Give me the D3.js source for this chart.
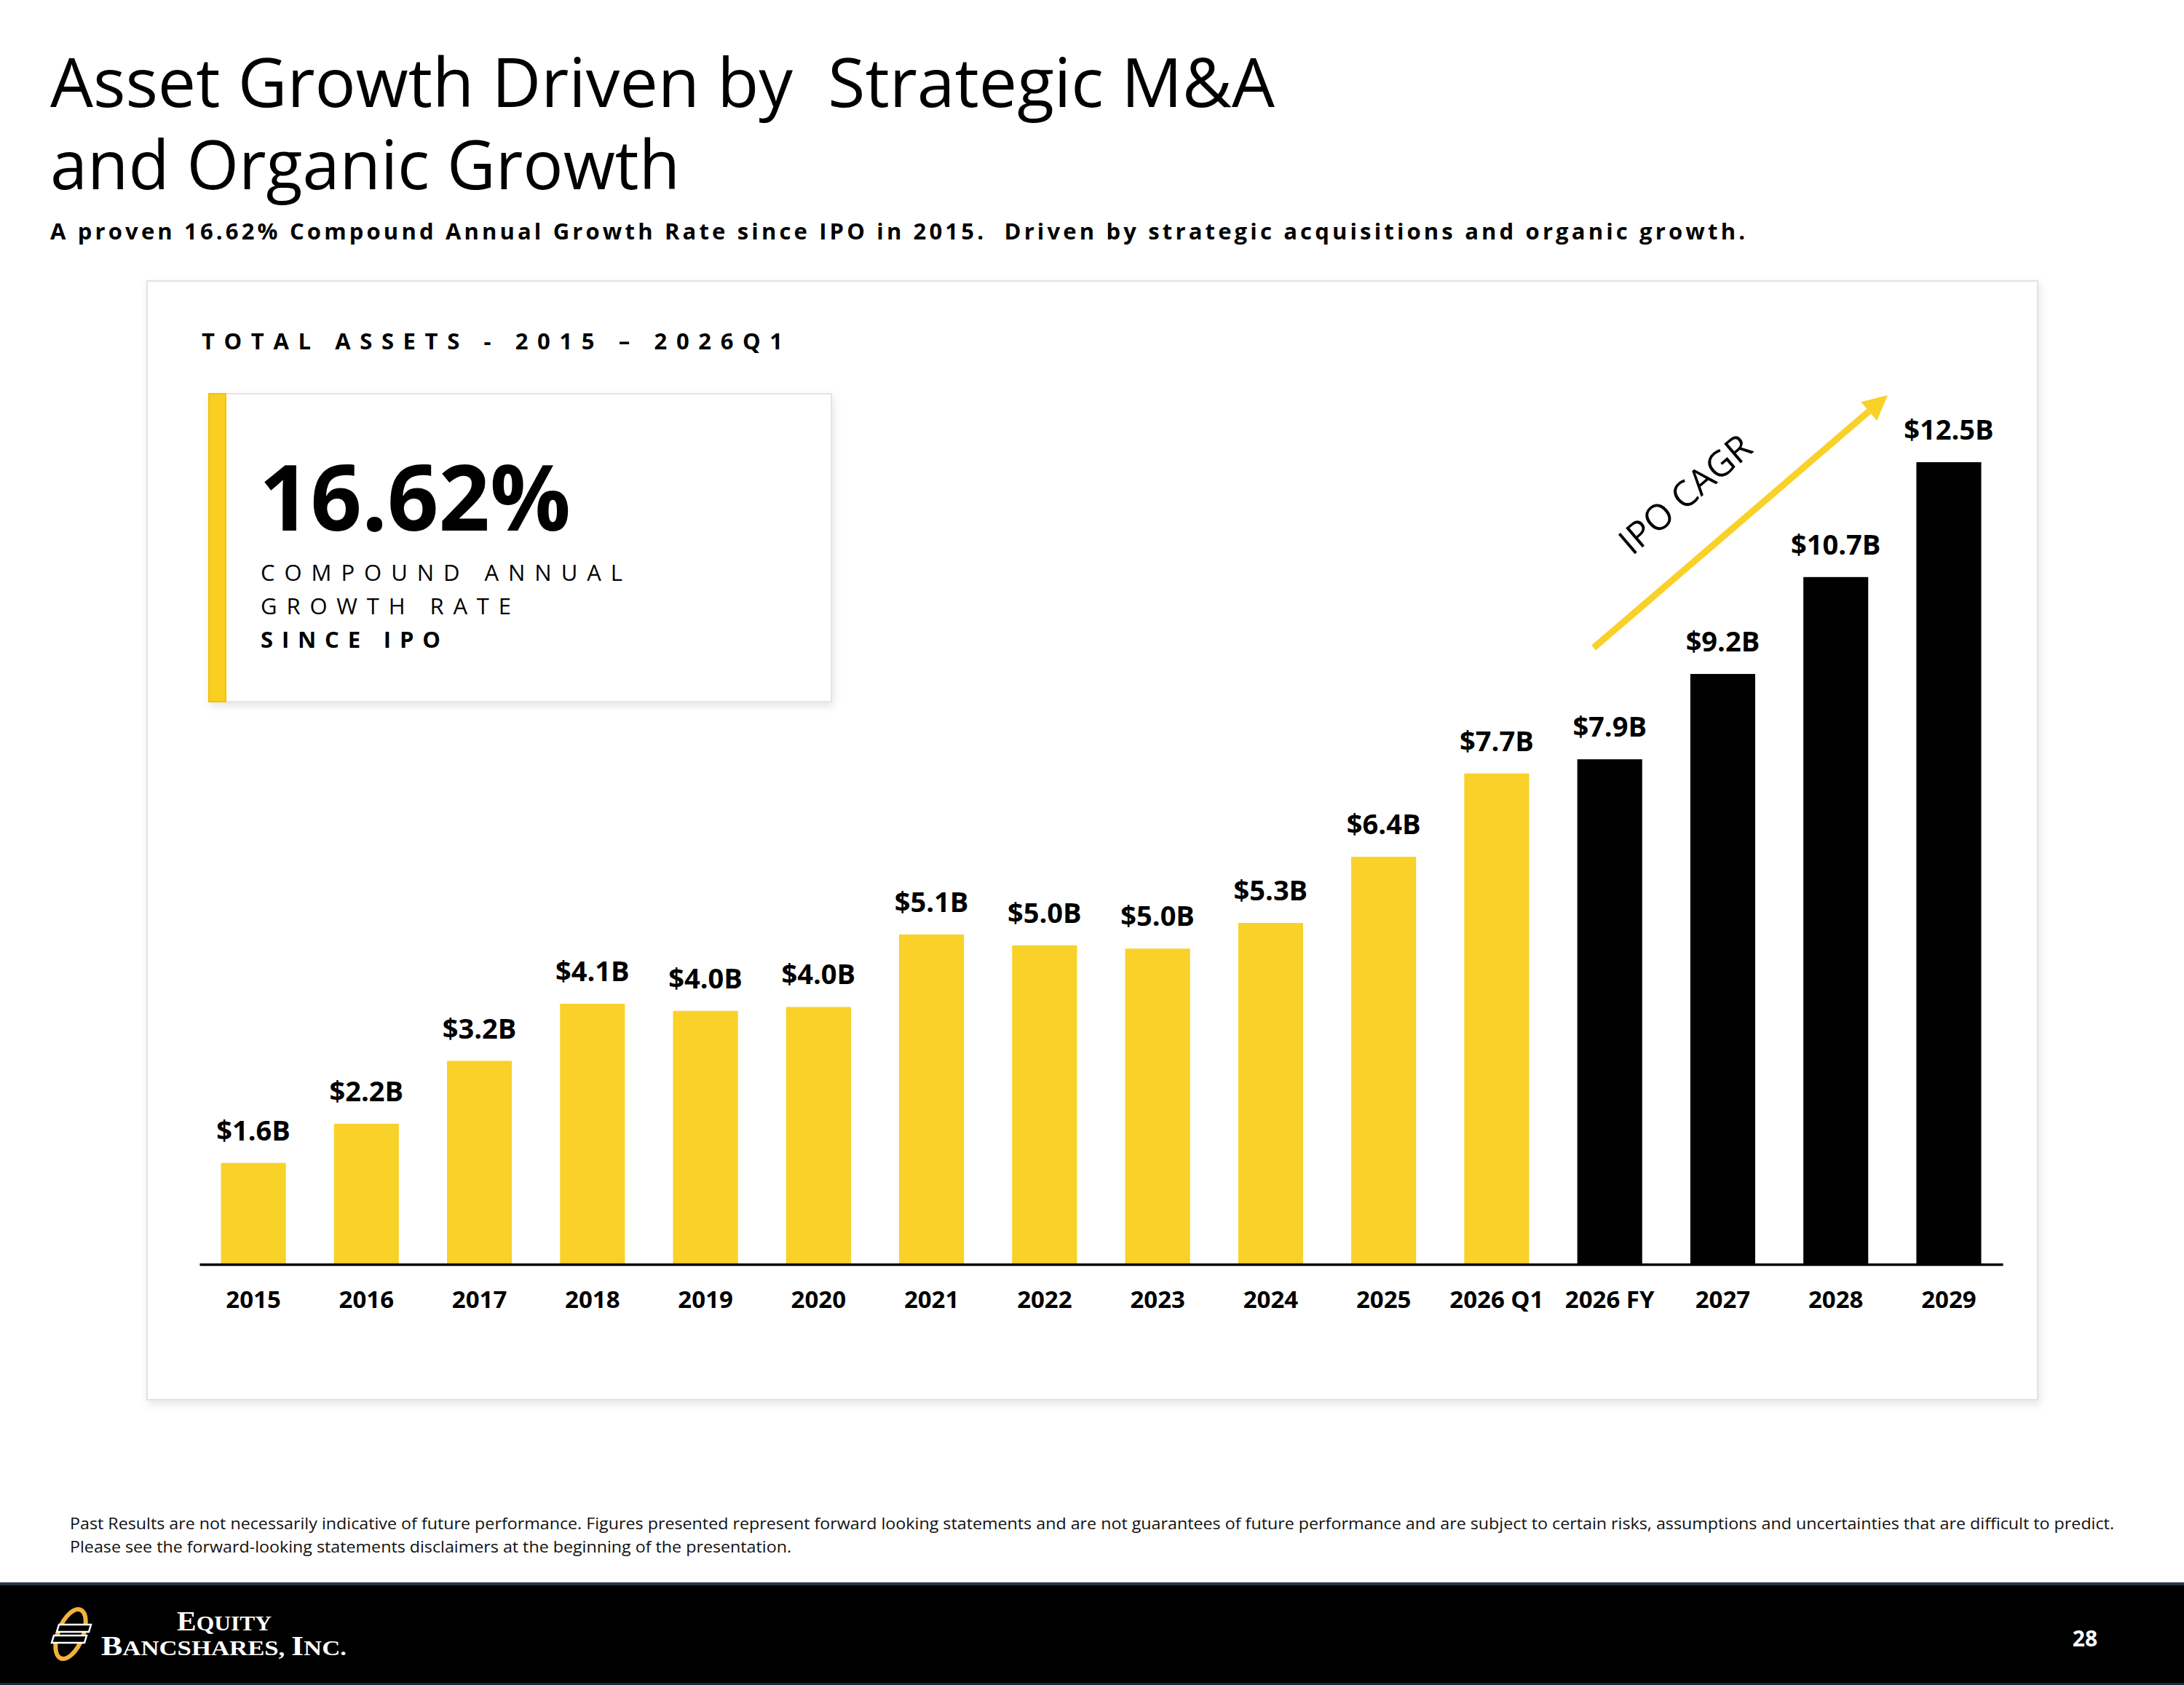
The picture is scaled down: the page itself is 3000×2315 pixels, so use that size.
<!DOCTYPE html>
<html>
<head>
<meta charset="utf-8">
<script src="https://cdn.jsdelivr.net/npm/d3@7"></script>
<style>
  html, body { margin: 0; padding: 0; background: #fff; }
  svg { display: block; }
  text { font-family: "Open Sans", sans-serif; }
  text.serif { font-family: "Liberation Serif", "DejaVu Serif", serif; }
</style>
</head>
<body>
<script>
// Chart data
const categories = ["2015", "2016", "2017", "2018", "2019", "2020", "2021", "2022",
  "2023", "2024", "2025", "2026 Q1", "2026 FY", "2027", "2028", "2029"];
const values = [1.58, 2.19, 3.17, 4.06, 3.95, 4.01, 5.14, 4.97,
  4.92, 5.32, 6.35, 7.65, 7.87, 9.20, 10.71, 12.50];
const valueLabels = ["$1.6B", "$2.2B", "$3.2B", "$4.1B", "$4.0B", "$4.0B", "$5.1B", "$5.0B",
  "$5.0B", "$5.3B", "$6.4B", "$7.7B", "$7.9B", "$9.2B", "$10.7B", "$12.5B"];
// actual results vs. projections
const kinds = ["actual", "actual", "actual", "actual", "actual", "actual", "actual", "actual",
  "actual", "actual", "actual", "actual", "projected", "projected", "projected", "projected"];

const YELLOW = "#F9D128";
const W = 3000, H = 2315;

const svg = d3.select("body").append("svg")
  .attr("width", W)
  .attr("height", H);

// Soft shadow used by both cards
const defs = svg.append("defs");
const shadow = defs.append("filter").attr("id", "shadow")
  .attr("x", "-5%").attr("y", "-5%").attr("width", "110%").attr("height", "115%");
shadow.append("feDropShadow")
  .attr("dx", 2).attr("dy", 5).attr("stdDeviation", 6)
  .attr("flood-color", "#000").attr("flood-opacity", 0.10);

// Title and subtitle
const title = svg.append("g");
title.append("text")
  .attr("x", 69).attr("y", 147)
  .style("font-size", "94px").style("white-space", "pre")
  .attr("textLength", 1682).attr("lengthAdjust", "spacingAndGlyphs")
  .text("Asset Growth Driven by  Strategic M&A");
title.append("text")
  .attr("x", 69).attr("y", 260)
  .style("font-size", "94px")
  .attr("textLength", 865).attr("lengthAdjust", "spacingAndGlyphs")
  .text("and Organic Growth");
title.append("text")
  .attr("x", 69).attr("y", 329)
  .style("font-size", "31px").style("font-weight", 700).style("white-space", "pre")
  .attr("textLength", 2328).attr("lengthAdjust", "spacing")
  .text("A proven 16.62% Compound Annual Growth Rate since IPO in 2015.  Driven by strategic acquisitions and organic growth.");

// Main card
svg.append("rect")
  .attr("x", 202).attr("y", 386).attr("width", 2597).attr("height", 1537)
  .attr("fill", "#fff").attr("stroke", "#e2e2e2").attr("stroke-width", 2)
  .attr("filter", "url(#shadow)");

svg.append("text")
  .attr("x", 277).attr("y", 480)
  .style("font-size", "31px").style("font-weight", 700).style("white-space", "pre")
  .attr("textLength", 798).attr("lengthAdjust", "spacing")
  .text("TOTAL ASSETS - 2015 \u2013 2026Q1");

// CAGR callout card
const callout = svg.append("g");
callout.append("rect")
  .attr("x", 287).attr("y", 541).attr("width", 855).attr("height", 423)
  .attr("fill", "#fff").attr("stroke", "#e4e4e4").attr("stroke-width", 2)
  .attr("filter", "url(#shadow)");
callout.append("rect")
  .attr("x", 287).attr("y", 541).attr("width", 23).attr("height", 423)
  .attr("fill", "#FACF22").attr("stroke", "#F1C200").attr("stroke-width", 2);
callout.append("text")
  .attr("x", 356).attr("y", 729)
  .style("font-size", "126px").style("font-weight", 700)
  .attr("textLength", 428).attr("lengthAdjust", "spacingAndGlyphs")
  .text("16.62%");
const calloutLines = [
  { t: "COMPOUND ANNUAL", y: 798, w: 497, bold: false },
  { t: "GROWTH RATE", y: 844, w: 344, bold: false },
  { t: "SINCE IPO", y: 890, w: 247, bold: true }
];
callout.selectAll("text.sub")
  .data(calloutLines)
  .join("text")
  .attr("class", "sub")
  .attr("x", 358).attr("y", d => d.y)
  .style("font-size", "31px")
  .style("font-weight", d => d.bold ? 700 : 400)
  .attr("textLength", d => d.w).attr("lengthAdjust", "spacing")
  .text(d => d.t);

// Scales
const x = d3.scaleBand()
  .domain(categories)
  .range([274, 2751])
  .paddingInner(0.426)
  .paddingOuter(0.19);

const y = d3.scaleLinear()
  .domain([0, 12.5])
  .range([1737, 635]);

const chart = svg.append("g");

chart.selectAll("rect.bar")
  .data(categories)
  .join("rect")
  .attr("class", "bar")
  .attr("x", d => x(d))
  .attr("y", (d, i) => y(values[i]))
  .attr("width", x.bandwidth())
  .attr("height", (d, i) => y(0) - y(values[i]))
  .attr("fill", (d, i) => kinds[i] === "projected" ? "#000" : YELLOW);

chart.selectAll("text.val")
  .data(categories)
  .join("text")
  .attr("class", "val")
  .attr("x", d => x(d) + x.bandwidth() / 2)
  .attr("y", (d, i) => y(values[i]) - 31)
  .attr("text-anchor", "middle")
  .style("font-size", "38px").style("font-weight", 700)
  .text((d, i) => valueLabels[i]);

// X axis
const xAxis = chart.append("g")
  .attr("transform", `translate(0,${y(0)})`)
  .call(d3.axisBottom(x).tickSize(0).tickPadding(37));
xAxis.select(".domain")
  .attr("stroke", "#000").attr("stroke-width", 3.5);
xAxis.selectAll(".tick text")
  .attr("fill", "#000")
  .style("font-family", "'Open Sans', sans-serif")
  .style("font-size", "33px").style("font-weight", 700);

// IPO CAGR arrow
const tail = [2189, 890], tip = [2593, 543];
const ang = Math.atan2(tip[1] - tail[1], tip[0] - tail[0]);
const headLen = 34, headW = 17;
const base = [tip[0] - headLen * Math.cos(ang), tip[1] - headLen * Math.sin(ang)];
chart.append("line")
  .attr("x1", tail[0]).attr("y1", tail[1])
  .attr("x2", base[0]).attr("y2", base[1])
  .attr("stroke", YELLOW).attr("stroke-width", 9);
chart.append("path")
  .attr("d", d3.line()([
    tip,
    [base[0] + headW * Math.sin(ang), base[1] - headW * Math.cos(ang)],
    [base[0] - headW * Math.sin(ang), base[1] + headW * Math.cos(ang)]
  ]) + "Z")
  .attr("fill", YELLOW);
chart.append("text")
  .attr("transform", `translate(2326,692) rotate(${ang * 180 / Math.PI})`)
  .attr("text-anchor", "middle")
  .style("font-size", "49px")
  .text("IPO CAGR");

// Disclaimer
const notes = [
  { t: "Past Results are not necessarily indicative of future performance. Figures presented represent forward looking statements and are not guarantees of future performance and are subject to certain risks, assumptions and uncertainties that are difficult to predict.", y: 2101, w: 2808 },
  { t: "Please see the forward-looking statements disclaimers at the beginning of the presentation.", y: 2133, w: 991 }
];
svg.selectAll("text.note")
  .data(notes)
  .join("text")
  .attr("class", "note")
  .attr("x", 96).attr("y", d => d.y)
  .style("font-size", "22px").attr("fill", "#111")
  .attr("textLength", d => d.w).attr("lengthAdjust", "spacingAndGlyphs")
  .text(d => d.t);

// Footer band
const footer = svg.append("g");
footer.append("rect")
  .attr("x", 0).attr("y", 2175).attr("width", W).attr("height", H - 2175)
  .attr("fill", "#000");
footer.append("rect")
  .attr("x", 0).attr("y", 2174).attr("width", W).attr("height", 4)
  .attr("fill", "#26374d");
footer.append("rect")
  .attr("x", 0).attr("y", 2312).attr("width", W).attr("height", 3)
  .attr("fill", "#1c2a3d");

// Logo mark
footer.append("ellipse")
  .attr("cx", 97).attr("cy", 2245).attr("rx", 17).attr("ry", 36)
  .attr("transform", "rotate(22,97,2245)")
  .attr("fill", "none").attr("stroke", "#F0B23C").attr("stroke-width", 6);
[[78, 2232, 44], [71, 2247, 45]].forEach(([bx, by, bw]) => {
  footer.append("path")
    .attr("d", `M${bx + 3},${by} L${bx + bw + 3},${by} L${bx + bw},${by + 10} L${bx},${by + 10} Z`)
    .attr("fill", "#000").attr("stroke", "#fff").attr("stroke-width", 2.5);
});

const l1 = footer.append("text").attr("class", "serif")
  .attr("x", 243).attr("y", 2240)
  .attr("fill", "#fff").style("font-weight", 700)
  .attr("textLength", 130).attr("lengthAdjust", "spacingAndGlyphs");
l1.append("tspan").style("font-size", "38px").text("E");
l1.append("tspan").style("font-size", "30px").text("QUITY");
const l2 = footer.append("text").attr("class", "serif")
  .attr("x", 139).attr("y", 2274)
  .attr("fill", "#fff").style("font-weight", 700)
  .attr("textLength", 337).attr("lengthAdjust", "spacingAndGlyphs");
l2.append("tspan").style("font-size", "38px").text("B");
l2.append("tspan").style("font-size", "30px").text("ANCSHARES, ");
l2.append("tspan").style("font-size", "38px").text("I");
l2.append("tspan").style("font-size", "30px").text("NC.");

footer.append("text")
  .attr("x", 2864).attr("y", 2262)
  .attr("text-anchor", "middle")
  .attr("fill", "#fff")
  .style("font-size", "30px").style("font-weight", 700)
  .text("28");
</script>
</body>
</html>
